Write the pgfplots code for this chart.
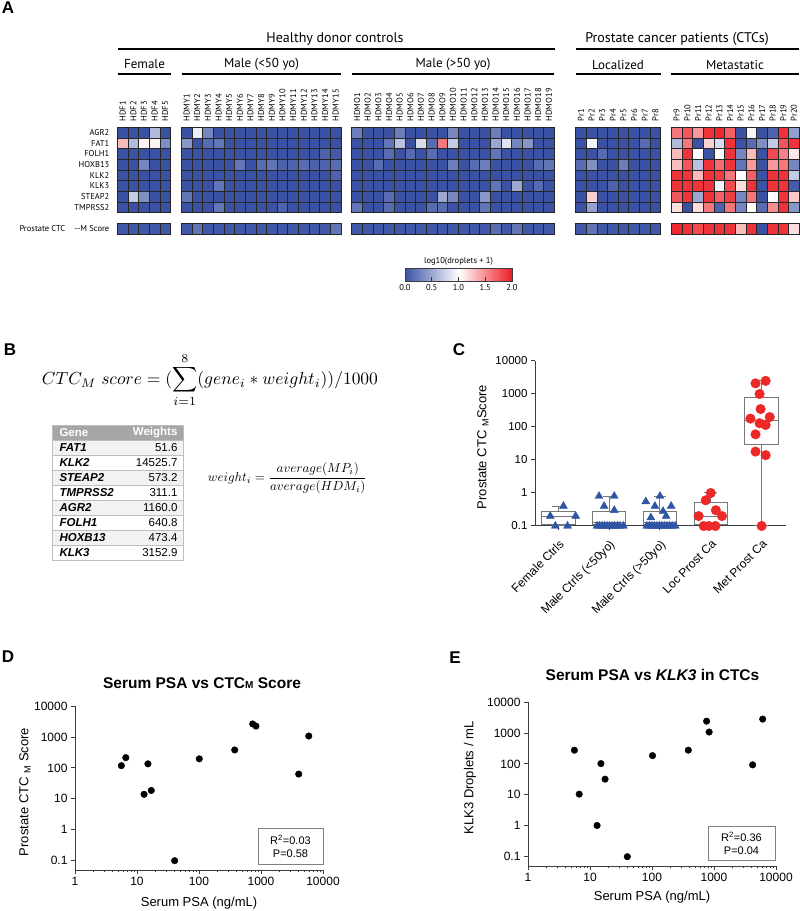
\documentclass[border=0pt]{standalone}
\usepackage{pgfplots}
\pgfplotsset{compat=1.18}
\usepgfplotslibrary{statistics}
\usepackage{fontspec}
\usepackage{graphicx}
\setmainfont{Liberation Sans}
\newfontfamily\myr{PT Sans}
\definecolor{hmblue}{RGB}{59,82,164}
\definecolor{ctrlblue}{RGB}{47,85,165}
\definecolor{ptred}{RGB}{236,40,40}
\definecolor{boxgray}{RGB}{120,120,120}
\definecolor{axgray}{RGB}{60,60,60}
\definecolor{thead}{RGB}{166,166,166}
\definecolor{trow}{RGB}{242,242,242}
\definecolor{tline}{RGB}{190,190,190}
\pgfplotsset{colormap={hm}{rgb255=(59,82,164) rgb255=(255,255,255) rgb255=(237,28,36)}}
\newcommand{\hmf}{\myr\fontsize{8.5}{10}\selectfont}
\newcommand{\pl}{\fontsize{17}{20}\selectfont\bfseries}
\begin{document}
\begin{tikzpicture}
\path[use as bounding box] (0,0) rectangle (800pt,911pt);
% ---------------- Panel A ----------------
\node[font=\pl] at (8pt,903pt) {A};
\node[font=\myr\fontsize{14}{16}\selectfont] at (335pt,872pt) {Healthy donor controls};
\node[font=\myr\fontsize{14}{16}\selectfont] at (677pt,872pt) {Prostate cancer patients (CTCs)};
\draw[line width=1.3pt] (118pt,862pt) -- (555pt,862pt);
\draw[line width=1.3pt] (576pt,862pt) -- (799pt,862pt);
\node[font=\myr\fontsize{13}{15}\selectfont] at (144.5pt,846.5pt) {Female};
\node[font=\myr\fontsize{13}{15}\selectfont] at (261.5pt,846.5pt) {Male (<50 yo)};
\node[font=\myr\fontsize{13}{15}\selectfont] at (453pt,846.5pt) {Male (>50 yo)};
\node[font=\myr\fontsize{13}{15}\selectfont] at (618pt,846.5pt) {Localized};
\node[font=\myr\fontsize{13}{15}\selectfont] at (735pt,846.5pt) {Metastatic};
\draw[line width=1.3pt] (118pt,837pt) -- (171pt,837pt);
\draw[line width=1.3pt] (182pt,837pt) -- (341pt,837pt);
\draw[line width=1.3pt] (352pt,837pt) -- (554pt,837pt);
\draw[line width=1.3pt] (576pt,837pt) -- (661pt,837pt);
\draw[line width=1.3pt] (671pt,837pt) -- (799pt,837pt);

\begin{axis}[at={(117.3pt,783.7pt)}, anchor=north west, scale only axis,
  width=682pt, height=106.7pt, xmin=0.5, xmax=64.5, ymin=0.5, ymax=10.5,
  axis line style={draw=none}, tick style={draw=none}, major tick length=0pt,
  xtick={1,2,3,4,5,7,8,9,10,11,12,13,14,15,16,17,18,19,20,21,23,24,25,26,27,28,29,30,31,32,33,34,35,36,37,38,39,40,41,44,45,46,47,48,49,50,51,53,54,55,56,57,58,59,60,61,62,63,64},
  xticklabels={HDF1,HDF2,HDF3,HDF4,HDF5,HDMY1,HDMY2,HDMY3,HDMY4,HDMY5,HDMY6,HDMY7,HDMY8,HDMY9,HDMY10,HDMY11,HDMY12,HDMY13,HDMY14,HDMY15,HDMO1,HDMO2,HDMO3,HDMO4,HDMO5,HDMO6,HDMO7,HDMO8,HDMO9,HDMO10,HDMO11,HDMO12,HDMO13,HDMO14,HDMO15,HDMO16,HDMO17,HDMO18,HDMO19,Pr1,Pr2,Pr3,Pr4,Pr5,Pr6,Pr7,Pr8,Pr9,Pr10,Pr11,Pr12,Pr13,Pr14,Pr15,Pr16,Pr17,Pr18,Pr19,Pr20},
  xticklabel pos=upper, xticklabel style={rotate=90, anchor=west, font=\hmf, inner sep=1pt},
  xticklabel shift=4.8pt,
  ytick={1,3,4,5,6,7,8,9,10},
  yticklabels={Prostate CTC\hspace{9pt}--M Score,TMPRSS2,STEAP2,KLK3,KLK2,HOXB13,FOLH1,FAT1,AGR2},
  yticklabel style={font=\hmf, inner sep=1pt}, yticklabel shift=6.8pt,
  colormap name=hm, point meta min=0, point meta max=2, clip=false]
\addplot[scatter, only marks, mark=square*, mark size=5.33pt, line width=0.6pt, point meta=explicit,
  scatter/use mapped color={draw=black!85, fill=mapped color}] coordinates {
(1,10)[0] (2,10)[0] (3,10)[0] (4,10)[0.6] (5,10)[0]
(1,9)[1.3] (2,9)[0.6] (3,9)[1.05] (4,9)[1.05] (5,9)[0.35]
(1,8)[0] (2,8)[0] (3,8)[0] (4,8)[0] (5,8)[0]
(1,7)[0] (2,7)[0] (3,7)[0.3] (4,7)[0] (5,7)[0]
(1,6)[0] (2,6)[0] (3,6)[0] (4,6)[0] (5,6)[0]
(1,5)[0] (2,5)[0] (3,5)[0] (4,5)[0] (5,5)[0]
(1,4)[0] (2,4)[0.7] (3,4)[0.35] (4,4)[0] (5,4)[0]
(1,3)[0] (2,3)[0] (3,3)[0] (4,3)[0] (5,3)[0]
(1,1)[0.03] (2,1)[0.03] (3,1)[0.03] (4,1)[0.03] (5,1)[0.03]
};
\addplot[scatter, only marks, mark=square*, mark size=5.33pt, line width=0.6pt, point meta=explicit,
  scatter/use mapped color={draw=black!85, fill=mapped color}] coordinates {
(7,10)[0] (8,10)[0.9] (9,10)[0.3] (10,10)[0] (11,10)[0] (12,10)[0] (13,10)[0] (14,10)[0] (15,10)[0] (16,10)[0] (17,10)[0] (18,10)[0] (19,10)[0] (20,10)[0] (21,10)[0]
(7,9)[0.4] (8,9)[0] (9,9)[0.15] (10,9)[0.2] (11,9)[0] (12,9)[0] (13,9)[0] (14,9)[0] (15,9)[0] (16,9)[0] (17,9)[0] (18,9)[0] (19,9)[0] (20,9)[0] (21,9)[0]
(7,8)[0] (8,8)[0] (9,8)[0] (10,8)[0] (11,8)[0] (12,8)[0] (13,8)[0] (14,8)[0] (15,8)[0] (16,8)[0] (17,8)[0] (18,8)[0] (19,8)[0] (20,8)[0.1] (21,8)[0.05]
(7,7)[0] (8,7)[0] (9,7)[0] (10,7)[0] (11,7)[0] (12,7)[0.2] (13,7)[0] (14,7)[0.15] (15,7)[0.2] (16,7)[0.1] (17,7)[0.1] (18,7)[0.15] (19,7)[0.1] (20,7)[0.1] (21,7)[0.15]
(7,6)[0] (8,6)[0] (9,6)[0] (10,6)[0] (11,6)[0] (12,6)[0] (13,6)[0] (14,6)[0] (15,6)[0] (16,6)[0] (17,6)[0] (18,6)[0] (19,6)[0] (20,6)[0] (21,6)[0.1]
(7,5)[0] (8,5)[0] (9,5)[0] (10,5)[0.2] (11,5)[0] (12,5)[0] (13,5)[0] (14,5)[0] (15,5)[0] (16,5)[0] (17,5)[0] (18,5)[0] (19,5)[0] (20,5)[0] (21,5)[0]
(7,4)[0.2] (8,4)[0] (9,4)[0] (10,4)[0] (11,4)[0] (12,4)[0] (13,4)[0] (14,4)[0] (15,4)[0] (16,4)[0] (17,4)[0] (18,4)[0] (19,4)[0] (20,4)[0] (21,4)[0]
(7,3)[0] (8,3)[0] (9,3)[0] (10,3)[0.2] (11,3)[0] (12,3)[0] (13,3)[0] (14,3)[0] (15,3)[0] (16,3)[0.1] (17,3)[0] (18,3)[0] (19,3)[0] (20,3)[0] (21,3)[0]
(7,1)[0.03] (8,1)[0.2] (9,1)[0.03] (10,1)[0.03] (11,1)[0.03] (12,1)[0.03] (13,1)[0.03] (14,1)[0.03] (15,1)[0.03] (16,1)[0.03] (17,1)[0.03] (18,1)[0.03] (19,1)[0.03] (20,1)[0.03] (21,1)[0.2]
};
\addplot[scatter, only marks, mark=square*, mark size=5.33pt, line width=0.6pt, point meta=explicit,
  scatter/use mapped color={draw=black!85, fill=mapped color}] coordinates {
(23,10)[0.25] (24,10)[0] (25,10)[0] (26,10)[0] (27,10)[0.25] (28,10)[0] (29,10)[0] (30,10)[0] (31,10)[0] (32,10)[0.3] (33,10)[0] (34,10)[0] (35,10)[0] (36,10)[0.25] (37,10)[0] (38,10)[0] (39,10)[0] (40,10)[0] (41,10)[0]
(23,9)[0] (24,9)[0] (25,9)[0] (26,9)[0.2] (27,9)[0.65] (28,9)[0] (29,9)[0.8] (30,9)[0.15] (31,9)[1.6] (32,9)[0.7] (33,9)[0] (34,9)[0] (35,9)[0] (36,9)[0.5] (37,9)[0.85] (38,9)[0.3] (39,9)[0.4] (40,9)[0] (41,9)[0]
(23,8)[0] (24,8)[0] (25,8)[0] (26,8)[0.15] (27,8)[0] (28,8)[0.15] (29,8)[0] (30,8)[0.15] (31,8)[0] (32,8)[0] (33,8)[0] (34,8)[0] (35,8)[0] (36,8)[0.2] (37,8)[0] (38,8)[0] (39,8)[0] (40,8)[0] (41,8)[0]
(23,7)[0] (24,7)[0] (25,7)[0.15] (26,7)[0] (27,7)[0] (28,7)[0] (29,7)[0] (30,7)[0] (31,7)[0] (32,7)[0.25] (33,7)[0] (34,7)[0.15] (35,7)[0.25] (36,7)[0] (37,7)[0] (38,7)[0] (39,7)[0] (40,7)[0.15] (41,7)[0.2]
(23,6)[0] (24,6)[0] (25,6)[0] (26,6)[0] (27,6)[0] (28,6)[0] (29,6)[0] (30,6)[0] (31,6)[0] (32,6)[0] (33,6)[0] (34,6)[0] (35,6)[0] (36,6)[0] (37,6)[0] (38,6)[0] (39,6)[0] (40,6)[0] (41,6)[0]
(23,5)[0] (24,5)[0] (25,5)[0] (26,5)[0] (27,5)[0] (28,5)[0] (29,5)[0] (30,5)[0] (31,5)[0] (32,5)[0] (33,5)[0] (34,5)[0] (35,5)[0] (36,5)[0.2] (37,5)[0] (38,5)[0.5] (39,5)[0] (40,5)[0.15] (41,5)[0]
(23,4)[0] (24,4)[0] (25,4)[0] (26,4)[0.15] (27,4)[0] (28,4)[0] (29,4)[0] (30,4)[0] (31,4)[0.5] (32,4)[0.3] (33,4)[0] (34,4)[0] (35,4)[0.4] (36,4)[0] (37,4)[0] (38,4)[0] (39,4)[0] (40,4)[0] (41,4)[0]
(23,3)[0.2] (24,3)[0] (25,3)[0] (26,3)[0.15] (27,3)[0] (28,3)[0] (29,3)[0] (30,3)[0.15] (31,3)[0.15] (32,3)[0] (33,3)[0] (34,3)[0] (35,3)[0.2] (36,3)[0] (37,3)[0] (38,3)[0] (39,3)[0] (40,3)[0] (41,3)[0]
(23,1)[0.03] (24,1)[0.03] (25,1)[0.03] (26,1)[0.03] (27,1)[0.03] (28,1)[0.03] (29,1)[0.03] (30,1)[0.03] (31,1)[0.03] (32,1)[0.03] (33,1)[0.03] (34,1)[0.03] (35,1)[0.03] (36,1)[0.15] (37,1)[0.03] (38,1)[0.2] (39,1)[0.03] (40,1)[0.03] (41,1)[0.03]
};
\addplot[scatter, only marks, mark=square*, mark size=5.33pt, line width=0.6pt, point meta=explicit,
  scatter/use mapped color={draw=black!85, fill=mapped color}] coordinates {
(44,10)[0] (45,10)[0] (46,10)[0] (47,10)[0] (48,10)[0] (49,10)[0] (50,10)[0] (51,10)[0]
(44,9)[0] (45,9)[0.95] (46,9)[0] (47,9)[0] (48,9)[0] (49,9)[0] (50,9)[0.15] (51,9)[0]
(44,8)[0] (45,8)[0] (46,8)[0.15] (47,8)[0] (48,8)[0] (49,8)[0] (50,8)[0] (51,8)[0]
(44,7)[0.15] (45,7)[0.35] (46,7)[0] (47,7)[0] (48,7)[0.25] (49,7)[0] (50,7)[0] (51,7)[0]
(44,6)[0] (45,6)[0] (46,6)[0] (47,6)[0] (48,6)[0] (49,6)[0] (50,6)[0] (51,6)[0]
(44,5)[0] (45,5)[0] (46,5)[0] (47,5)[0.1] (48,5)[0] (49,5)[0] (50,5)[0] (51,5)[0]
(44,4)[0] (45,4)[1.2] (46,4)[0] (47,4)[0] (48,4)[0] (49,4)[0] (50,4)[0] (51,4)[0]
(44,3)[0] (45,3)[0.45] (46,3)[0] (47,3)[0] (48,3)[0] (49,3)[0] (50,3)[0] (51,3)[0]
(44,1)[0.03] (45,1)[0.2] (46,1)[0.03] (47,1)[0.03] (48,1)[0.03] (49,1)[0.03] (50,1)[0.03] (51,1)[0.03]
};
\addplot[scatter, only marks, mark=square*, mark size=5.33pt, line width=0.6pt, point meta=explicit,
  scatter/use mapped color={draw=black!85, fill=mapped color}] coordinates {
(53,10)[1.6] (54,10)[1.75] (55,10)[1.45] (56,10)[1.9] (57,10)[1.95] (58,10)[1.7] (59,10)[0] (60,10)[0.95] (61,10)[0] (62,10)[0.1] (63,10)[1.9] (64,10)[0.45]
(53,9)[0.6] (54,9)[1.6] (55,9)[0] (56,9)[1.2] (57,9)[0.8] (58,9)[1.9] (59,9)[0] (60,9)[0.15] (61,9)[0.35] (62,9)[0.7] (63,9)[1.75] (64,9)[1.9]
(53,8)[1.3] (54,8)[1.9] (55,8)[1.0] (56,8)[0] (57,8)[1.0] (58,8)[1.9] (59,8)[0.3] (60,8)[1.3] (61,8)[0] (62,8)[1.8] (63,8)[1.55] (64,8)[1.1]
(53,7)[1.3] (54,7)[1.75] (55,7)[0.65] (56,7)[1.9] (57,7)[1.65] (58,7)[1.9] (59,7)[0.2] (60,7)[1.45] (61,7)[0] (62,7)[1.45] (63,7)[1.6] (64,7)[0.3]
(53,6)[1.9] (54,6)[1.9] (55,6)[1.3] (56,6)[1.9] (57,6)[1.85] (58,6)[1.6] (59,6)[1.0] (60,6)[1.7] (61,6)[0] (62,6)[1.9] (63,6)[1.9] (64,6)[0.7]
(53,5)[1.9] (54,5)[1.9] (55,5)[1.9] (56,5)[1.9] (57,5)[0.95] (58,5)[1.8] (59,5)[1.15] (60,5)[1.9] (61,5)[0] (62,5)[1.9] (63,5)[1.9] (64,5)[0.05]
(53,4)[1.75] (54,4)[1.9] (55,4)[0.5] (56,4)[1.9] (57,4)[1.7] (58,4)[1.85] (59,4)[0.3] (60,4)[1.6] (61,4)[0] (62,4)[1.0] (63,4)[1.9] (64,4)[1.25]
(53,3)[1.15] (54,3)[0] (55,3)[1.15] (56,3)[1.6] (57,3)[0.1] (58,3)[1.6] (59,3)[0.3] (60,3)[1.0] (61,3)[0.15] (62,3)[1.5] (63,3)[1.9] (64,3)[0.4]
(53,1)[1.95] (54,1)[1.9] (55,1)[1.8] (56,1)[1.9] (57,1)[1.9] (58,1)[1.9] (59,1)[1.3] (60,1)[1.9] (61,1)[0] (62,1)[1.9] (63,1)[1.9] (64,1)[1.15]
};
\end{axis}

% colour bar
\node[font=\myr\fontsize{8.5}{10}\selectfont] at (458.5pt,650pt) {log10(droplets + 1)};
\begin{axis}[at={(458.5pt,643pt)}, anchor=north, scale only axis, width=107pt, height=13pt,
  xmin=0, xmax=2, ymin=0, ymax=1, ytick=\empty, xtick={0,0.5,1,1.5,2},
  xtick pos=lower, tick align=inside, major tick length=4pt, axis on top=true,
  tick style={axgray, line width=0.6pt}, axis line style={axgray, line width=0.6pt},
  /pgf/number format/fixed, /pgf/number format/fixed zerofill, /pgf/number format/precision=1,
  /pgf/number format/assume math mode=true,
  xticklabel style={font=\myr\fontsize{8.5}{10}\selectfont},
  colormap name=hm, point meta min=0, point meta max=2]
\addplot[surf, shader=interp, mesh/rows=2, point meta=explicit] coordinates {
(0,0)[0] (0.5,0)[0.5] (1,0)[1] (1.5,0)[1.5] (2,0)[2]
(0,1)[0] (0.5,1)[0.5] (1,1)[1] (1.5,1)[1.5] (2,1)[2]
};
\end{axis}

% ---------------- Panel B ----------------
\node[font=\pl] at (10pt,561pt) {B};
\node at (210pt,531pt) {\resizebox{336pt}{!}{$\displaystyle CTC_M\ score = (\sum_{i=1}^{8}(gene_i * weight_i))/1000$}};
\node at (287.5pt,433pt) {\resizebox{159pt}{!}{$\displaystyle weight_i = \frac{average(MP_i)}{average(HDM_i)}$}};
\begin{scope}[font=\fontsize{11.5}{13}\selectfont]
\fill[thead] (52pt,471pt) rectangle (183pt,486pt);
\filldraw[fill=trow, draw=tline, line width=0.8pt] (52pt,456pt) rectangle (183pt,471pt);
\filldraw[fill=white, draw=tline, line width=0.8pt] (52pt,441pt) rectangle (183pt,456pt);
\filldraw[fill=trow, draw=tline, line width=0.8pt] (52pt,426pt) rectangle (183pt,441pt);
\filldraw[fill=white, draw=tline, line width=0.8pt] (52pt,411pt) rectangle (183pt,426pt);
\filldraw[fill=trow, draw=tline, line width=0.8pt] (52pt,396pt) rectangle (183pt,411pt);
\filldraw[fill=white, draw=tline, line width=0.8pt] (52pt,381pt) rectangle (183pt,396pt);
\filldraw[fill=trow, draw=tline, line width=0.8pt] (52pt,366pt) rectangle (183pt,381pt);
\filldraw[fill=white, draw=tline, line width=0.8pt] (52pt,351pt) rectangle (183pt,366pt);
\draw[tline, line width=0.8pt] (52pt,351pt) rectangle (183pt,486pt);
\node[anchor=west, text=white, font=\fontsize{11.5}{13}\selectfont\bfseries] at (56pt,478.5pt) {Gene};
\node[anchor=east, text=white, font=\fontsize{11.5}{13}\selectfont\bfseries] at (181pt,478.5pt) {Weights};
\node[anchor=west, font=\fontsize{11.5}{13}\selectfont\bfseries\itshape] at (56pt,463.5pt) {FAT1};
\node[anchor=west, font=\fontsize{11.5}{13}\selectfont\bfseries\itshape] at (56pt,448.5pt) {KLK2};
\node[anchor=west, font=\fontsize{11.5}{13}\selectfont\bfseries\itshape] at (56pt,433.5pt) {STEAP2};
\node[anchor=west, font=\fontsize{11.5}{13}\selectfont\bfseries\itshape] at (56pt,418.5pt) {TMPRSS2};
\node[anchor=west, font=\fontsize{11.5}{13}\selectfont\bfseries\itshape] at (56pt,403.5pt) {AGR2};
\node[anchor=west, font=\fontsize{11.5}{13}\selectfont\bfseries\itshape] at (56pt,388.5pt) {FOLH1};
\node[anchor=west, font=\fontsize{11.5}{13}\selectfont\bfseries\itshape] at (56pt,373.5pt) {HOXB13};
\node[anchor=west, font=\fontsize{11.5}{13}\selectfont\bfseries\itshape] at (56pt,358.5pt) {KLK3};
\node[anchor=east] at (181pt,463.5pt) {51.6};
\node[anchor=east] at (181pt,448.5pt) {14525.7};
\node[anchor=east] at (181pt,433.5pt) {573.2};
\node[anchor=east] at (181pt,418.5pt) {311.1};
\node[anchor=east] at (181pt,403.5pt) {1160.0};
\node[anchor=east] at (181pt,388.5pt) {640.8};
\node[anchor=east] at (181pt,373.5pt) {473.4};
\node[anchor=east] at (181pt,358.5pt) {3152.9};
\end{scope}

% ---------------- Panel C ----------------
\node[font=\pl] at (459pt,561pt) {C};
\node[rotate=90, font=\fontsize{13}{15}\selectfont] at (483pt,464pt) {Prostate CTC \textsubscript{M}Score};
\begin{axis}[at={(535pt,385pt)}, anchor=south west, scale only axis, width=251pt, height=165pt,
  ymode=log, ymin=0.1, ymax=10000, xmin=0.54, xmax=5.48,
  axis lines=left, axis line style={-, line width=1pt, axgray},
  ytick={0.1,1,10,100,1000,10000}, yticklabels={0.1,1,10,100,1000,10000}, yminorticks=false,
  xtick={1,2,3,4,5},
  xticklabels={Female Ctrls,Male Ctrls (<50yo),Male Ctrls (>50yo),Loc Prost Ca,Met Prost Ca},
  xticklabel style={rotate=45, anchor=north east, font=\fontsize{12}{14}\selectfont, inner sep=1pt},
  xticklabel shift=7.5pt,
  yticklabel style={font=\fontsize{11.5}{13}\selectfont},
  tick align=outside, major tick length=4pt, tick style={line width=1pt, axgray},
  boxplot/draw direction=y, clip=false]
\addplot[boxplot prepared={draw position=1, lower whisker=0.1, lower quartile=0.11, median=0.2, upper quartile=0.28, upper whisker=0.4, box extend=0.66, whisker extend=0.25}, draw=boxgray, line width=1pt, solid] coordinates {};
\addplot[boxplot prepared={draw position=2, lower whisker=0.1, lower quartile=0.11, median=0.125, upper quartile=0.28, upper whisker=0.8, box extend=0.66, whisker extend=0.25}, draw=boxgray, line width=1pt, solid] coordinates {};
\addplot[boxplot prepared={draw position=3, lower whisker=0.1, lower quartile=0.11, median=0.13, upper quartile=0.28, upper whisker=0.8, box extend=0.66, whisker extend=0.25}, draw=boxgray, line width=1pt, solid] coordinates {};
\addplot[boxplot prepared={draw position=4, lower whisker=0.1, lower quartile=0.11, median=0.2, upper quartile=0.5, upper whisker=1.05, box extend=0.66, whisker extend=0.25}, draw=boxgray, line width=1pt, solid] coordinates {};
\addplot[boxplot prepared={draw position=5, lower whisker=0.1, lower quartile=30, median=155, upper quartile=760, upper whisker=2500, box extend=0.66, whisker extend=0.25}, draw=boxgray, line width=1pt, solid] coordinates {};
\addplot[only marks, mark=triangle*, mark size=4.6pt, color=ctrlblue] coordinates {
(0.84,0.2) (1.1,0.4) (1.34,0.2) (0.94,0.1) (1.18,0.1)
(1.8,0.8) (2.1,0.8) (1.9,0.4) (2.1,0.3) (1.76,0.1) (1.81,0.1) (1.86,0.1) (1.91,0.1) (1.96,0.1) (2.01,0.1) (2.06,0.1) (2.11,0.1) (2.16,0.1) (2.21,0.1) (2.28,0.1)
(3.0,0.8) (2.72,0.55) (2.9,0.4) (3.22,0.4) (3.06,0.28) (2.82,0.18) (3.12,0.2)
(2.74,0.1) (2.79,0.1) (2.84,0.1) (2.89,0.1) (2.94,0.1) (2.99,0.1) (3.04,0.1) (3.09,0.1) (3.14,0.1) (3.19,0.1) (3.24,0.1) (3.3,0.1)
};
\addplot[only marks, mark=*, mark size=4.8pt, color=ptred] coordinates {
(4.0,1.0) (3.9,0.6) (4.1,0.3) (3.76,0.2) (4.22,0.2) (3.86,0.1) (3.96,0.1) (4.09,0.1)
(5.08,2500) (4.88,2100) (4.96,1000) (4.98,350) (5.16,200) (4.78,180) (4.96,130) (5.08,115) (4.88,60) (4.88,18) (5.08,14) (5.0,0.1)
};
\end{axis}

% ---------------- Panel D ----------------
\node[font=\pl] at (8pt,254pt) {D};
\node[font=\bfseries\fontsize{15.5}{18}\selectfont] at (202pt,228pt) {Serum PSA vs CTC{\fontsize{10}{12}\selectfont M} Score};
\node[rotate=90, font=\fontsize{13}{15}\selectfont] at (25pt,119pt) {Prostate CTC \textsubscript{M} Score};
\node[font=\fontsize{13}{15}\selectfont] at (199pt,8pt) {Serum PSA (ng/mL)};
\begin{axis}[at={(75pt,41pt)}, anchor=south west, scale only axis, width=248pt, height=164pt,
  xmode=log, ymode=log, xmin=1, xmax=10000, ymin=0.05, ymax=10000,
  axis lines=left, axis line style={-, line width=0.9pt, axgray},
  xtick={1,10,100,1000,10000}, xticklabels={1,10,100,1000,10000},
  ytick={0.1,1,10,100,1000,10000}, yticklabels={0.1,1,10,100,1000,10000}, yminorticks=false,
  tick align=outside, major tick length=4pt, minor tick length=2.5pt,
  tick style={axgray, line width=0.8pt}, ticklabel style={font=\fontsize{12}{14}\selectfont}, clip=false]
\addplot[only marks, mark=*, mark size=3.3pt, black] coordinates {
(5.6,118) (6.6,214) (15,135) (13,14) (17,18.6) (40.5,0.1) (101,196) (377,380) (735,2630) (830,2240) (5900,1070) (4060,63)
};
\end{axis}
\node[draw=gray, line width=0.8pt, minimum width=65pt, minimum height=36pt, align=center, font=\fontsize{11}{13}\selectfont] at (290.5pt,65pt) {R\textsuperscript{2}=0.03\\P=0.58};

% ---------------- Panel E ----------------
\node[font=\pl] at (455pt,253pt) {E};
\node[font=\bfseries\fontsize{15.5}{18}\selectfont] at (652.5pt,236pt) {Serum PSA vs \textit{KLK3} in CTCs};
\node[rotate=90, font=\fontsize{13}{15}\selectfont] at (470pt,133pt) {KLK3 Droplets / mL};
\node[font=\fontsize{13}{15}\selectfont] at (652pt,14pt) {Serum PSA (ng/mL)};
\begin{axis}[at={(528pt,45pt)}, anchor=south west, scale only axis, width=248pt, height=164pt,
  xmode=log, ymode=log, xmin=1, xmax=10000, ymin=0.05, ymax=10000,
  axis lines=left, axis line style={-, line width=0.9pt, axgray},
  xtick={1,10,100,1000,10000}, xticklabels={1,10,100,1000,10000},
  ytick={0.1,1,10,100,1000,10000}, yticklabels={0.1,1,10,100,1000,10000}, yminorticks=false,
  tick align=outside, major tick length=4pt, minor tick length=2.5pt,
  tick style={axgray, line width=0.8pt}, ticklabel style={font=\fontsize{12}{14}\selectfont}, clip=false]
\addplot[only marks, mark=*, mark size=3.3pt, black] coordinates {
(5.6,277) (6.7,10.5) (15,102) (17.5,32) (13,1.02) (40,0.1) (102,185) (385,277) (760,2400) (835,1070) (6100,2800) (4200,93)
};
\end{axis}
\node[draw=gray, line width=0.8pt, minimum width=67pt, minimum height=34pt, align=center, font=\fontsize{11}{13}\selectfont] at (741.5pt,68pt) {R\textsuperscript{2}=0.36\\P=0.04};
\end{tikzpicture}
\end{document}
